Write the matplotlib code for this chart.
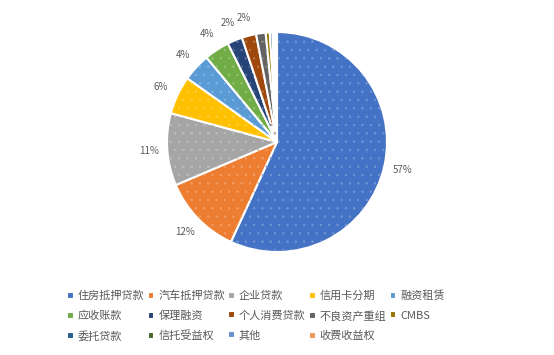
import numpy as np
import matplotlib.pyplot as plt
from matplotlib.colors import to_rgb

plt.rcParams['font.family'] = ['Noto Sans CJK SC', 'DejaVu Sans']
plt.rcParams['hatch.linewidth'] = 0.5

categories = ['住房抵押贷款', '汽车抵押贷款', '企业贷款', '信用卡分期', '融资租赁',
              '应收账款', '保理融资', '个人消费贷款', '不良资产重组', 'CMBS',
              '委托贷款', '信托受益权', '其他', '收费收益权']
values = [56.8, 11.7, 10.6, 5.6, 4.1, 3.7, 2.2, 2.1, 1.4, 0.6, 0.4, 0.25, 0.25, 0.15]
colors = ['#4472C4', '#ED7D31', '#A5A5A5', '#FFC000', '#5B9BD5',
          '#70AD47', '#264478', '#9E480E', '#636363', '#997300',
          '#255E91', '#43682B', '#698ED0', '#F1975A']

fig = plt.figure(figsize=(5.54, 3.55), dpi=100)
ax = fig.add_axes([0.2518, 0.2127, 0.4964, 0.7746])

def fmt(p):
    return '%.0f%%' % p if p >= 1.95 else ''

wedges, texts, autotexts = ax.pie(
    values, colors=colors, startangle=90, counterclock=False,
    autopct=fmt, pctdistance=1.17,
    wedgeprops=dict(edgecolor='white', linewidth=1.5),
    textprops=dict(fontsize=7, color='#595959'))

# light dotted texture like the excel pattern fill
for w, c, v in zip(wedges, colors, values):
    if v < 1:
        continue
    tint = tuple(0.75 * np.array(to_rgb(c)) + 0.25)
    ax.add_patch(plt.matplotlib.patches.Wedge(
        w.center, w.r - 0.01, w.theta1 + 0.5, w.theta2 - 0.5, fill=False,
        edgecolor=tint, linewidth=0, hatch='..'))

ax.set_xlim(-1.25, 1.25)
ax.set_ylim(-1.25, 1.25)
ax.set_aspect('equal')

# legend reads row by row, matplotlib fills columns
order = [0, 5, 10, 1, 6, 11, 2, 7, 12, 3, 8, 13, 4, 9]
fig.legend([wedges[i] for i in order], [categories[i] for i in order],
           ncol=5, loc='upper left', bbox_to_anchor=(0.103, 0.21),
           frameon=False, fontsize=8, labelcolor='#595959',
           handlelength=0.6, handleheight=0.6, handletextpad=0.35,
           columnspacing=0.3, labelspacing=0.85)

fig.savefig('out.png', dpi=100)
